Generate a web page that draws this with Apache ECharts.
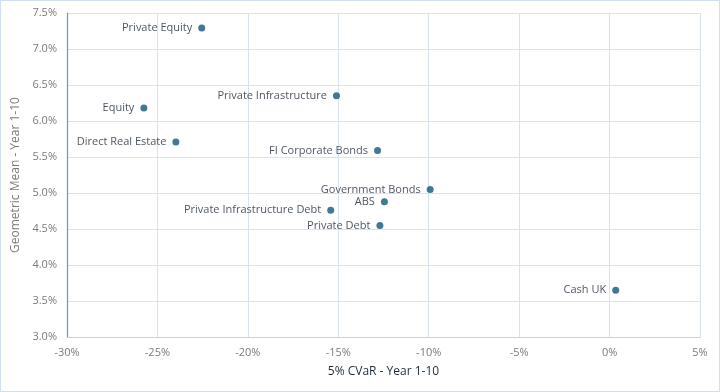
<!DOCTYPE html>
<html>
<head>
<meta charset="utf-8">
<script src="https://cdn.jsdelivr.net/npm/echarts@6/dist/echarts.min.js"></script>
<style>
html,body{margin:0;padding:0;background:#fff;}
#frame{position:absolute;left:0;top:0;width:718px;height:390px;border:1px solid #cfe0f2;}
#chart{width:720px;height:392px;}
</style>
</head>
<body>
<div id="frame"></div>
<div id="chart"></div>
<script>
const assetNames = ['Private Equity','Private Infrastructure','Equity','Direct Real Estate','FI Corporate Bonds','Government Bonds','ABS','Private Infrastructure Debt','Private Debt','Cash UK'];
const cvarValues = [-22.55, -15.1, -25.75, -23.98, -12.83, -9.92, -12.45, -15.42, -12.7, 0.34];
const geoMeanValues = [7.29, 6.35, 6.18, 5.71, 5.59, 5.05, 4.88, 4.76, 4.55, 3.65];
const xTicks = [-30, -25, -20, -15, -10, -5, 0, 5];
const yTicks = [3.0, 3.5, 4.0, 4.5, 5.0, 5.5, 6.0, 6.5, 7.0, 7.5];

const points = assetNames.map((n, i) => ({name: n, value: [cvarValues[i], geoMeanValues[i]]}));
const chart = echarts.init(document.getElementById('chart'), null, {renderer: 'canvas'});
const fontFam = '"Open Sans", "Noto Sans", sans-serif';
chart.setOption({
  animation: false,
  grid: {left: 67, right: 20, top: 13, bottom: 55, containLabel: false},
  xAxis: {
    type: 'value', min: xTicks[0], max: xTicks[xTicks.length-1], interval: 5,
    name: '5% CVaR - Year 1-10', nameLocation: 'middle', nameGap: 29,
    nameTextStyle: {color: '#1e2a3a', fontSize: 12, fontFamily: fontFam},
    axisLine: {show: true, onZero: false, lineStyle: {color: '#bcd4ee', width: 1}},
    axisTick: {show: false},
    axisLabel: {color: '#7a7a7a', fontSize: 11, fontFamily: fontFam, margin: 10, formatter: v => v + '%'},
    splitLine: {show: true, lineStyle: {color: '#d5e4f5', width: 1}}
  },
  yAxis: {
    type: 'value', min: yTicks[0], max: yTicks[yTicks.length-1], interval: 0.5,
    name: 'Geometric Mean - Year 1-10', nameLocation: 'middle', nameGap: 40,
    nameTextStyle: {color: '#7a7a7a', fontSize: 12, fontFamily: fontFam},
    axisLine: {show: true, onZero: false, lineStyle: {color: '#5b9bd5', width: 1.2}},
    axisTick: {show: false},
    axisLabel: {color: '#7a7a7a', fontSize: 11, fontFamily: fontFam, margin: 10, formatter: v => v.toFixed(1) + '%'},
    splitLine: {show: true, lineStyle: {color: '#d5e4f5', width: 1}}
  },
  series: [{
    type: 'scatter',
    data: points,
    symbolSize: 7,
    itemStyle: {color: '#10567b'},
    label: {
      show: true, position: 'left', distance: 6,
      formatter: p => p.name,
      color: '#1a2535', fontSize: 11, fontFamily: fontFam
    }
  }]
});
</script>
</body>
</html>
